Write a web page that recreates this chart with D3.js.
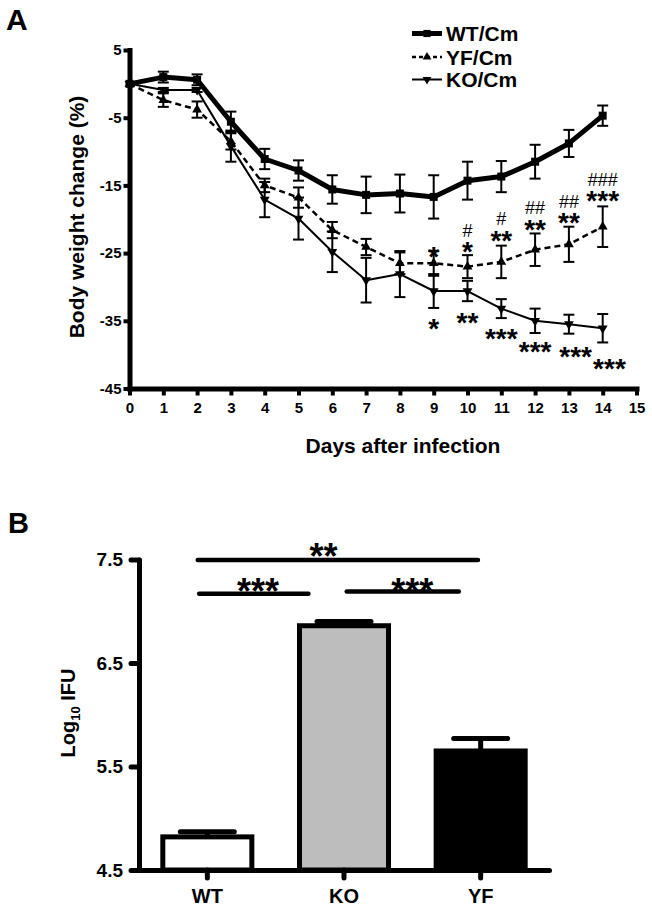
<!DOCTYPE html>
<html><head><meta charset="utf-8">
<script src="https://cdn.jsdelivr.net/npm/d3@7"></script>
<style>
body{margin:0;background:#fff}
svg{display:block}
text{font-family:"Liberation Sans",Arial,Helvetica,sans-serif;fill:#000}
</style>
</head><body>
<svg id="c" width="652" height="909"></svg>
<script>
// ---------- Panel A data ----------
const days = [0,1,2,3,4,5,6,7,8,9,10,11,12,13,14];
const xTicks = [0,1,2,3,4,5,6,7,8,9,10,11,12,13,14,15];
const yTicksA = [5,-5,-15,-25,-35,-45];
const seriesNames = ["WT/Cm","YF/Cm","KO/Cm"];
const wtMean = [0,1.0,0.6,-5.6,-11.1,-12.8,-15.6,-16.4,-16.2,-16.7,-14.3,-13.7,-11.5,-8.8,-4.7];
const wtSem  = [0,0.8,0.8,1.5,1.5,1.5,2.1,2.7,2.8,3.2,2.8,2.3,2.5,2.0,1.5];
const yfMean = [0,-2.4,-3.8,-8.5,-15.0,-16.8,-21.6,-24.1,-26.5,-26.5,-27.0,-26.3,-24.5,-23.7,-21.1];
const yfSem  = [0,1.0,1.2,1.2,1.0,1.5,1.2,1.2,1.6,1.85,1.7,2.4,2.4,2.6,3.0];
const koMean = [0,-0.9,-0.9,-9.2,-17.1,-19.9,-24.8,-29.0,-28.1,-30.6,-30.6,-33.2,-35.0,-35.5,-36.1];
const koSem  = [0,0.3,0.3,2.3,2.6,3.1,3.0,3.3,3.4,2.5,1.5,1.4,1.8,1.4,2.1];
// significance marks (position in data units)
const yfStarDays = [9,10,11,12,13,14];
const yfStarText = ["*","*","**","**","**","***"];
const yfStarY    = [-24.6,-23.8,-22.1,-20.6,-19.5,-16.3];
const yfHashText = ["","#","#","##","##","###"];
const yfHashY    = [0,-21.7,-19.9,-18.4,-17.5,-14.2];
const koStarDays = [9,10,11,12,13.2,14.2];
const koStarText = ["*","**","***","***","***","***"];
const koStarY    = [-35.2,-34.3,-36.6,-38.6,-39.3,-41.1];

// ---------- Panel B data ----------
const groups = ["WT","KO","YF"];
const ifuMean = [4.82,6.86,5.65];
const ifuSem  = [0.05,0.04,0.12];
const ifuFill = ["#ffffff","#bdbdbd","#000000"];
const yTicksB = [4.5,5.5,6.5,7.5];
// brackets: from index, to index, level, label, label position index, label y
const brFrom  = [-0.07,-0.06,1.02];
const brTo    = [1.98,0.74,1.84];
const brLevel = [7.495,7.17,7.19];
const brText  = ["**","***","***"];
const brTextX = [0.85,0.37,1.5];
const brTextY = [7.61,7.27,7.27];

const svg = d3.select("#c");
const starC = fs => 0.575*fs; // asterisk glyph centre above baseline

// ================= Panel A =================
const x = d3.scaleLinear().domain([0,15]).range([129.5,636.5]);
const y = d3.scaleLinear().domain([-45,5]).range([388.5,50]);

svg.append("text").attr("x",6).attr("y",30).attr("font-size",30).attr("font-weight","bold").text("A");

const gy = svg.append("g").attr("transform",`translate(${x(0)},0)`)
  .call(d3.axisLeft(y).tickValues(yTicksA).tickSize(6).tickSizeOuter(0).tickPadding(2).tickFormat(d=>String(d)));
const gx = svg.append("g").attr("transform",`translate(0,${y(-45)})`)
  .call(d3.axisBottom(x).tickValues(xTicks).tickSize(7).tickSizeOuter(0).tickPadding(7).tickFormat(d=>String(d)));
[gy,gx].forEach(g=>{
  g.select(".domain").attr("stroke","#000").attr("stroke-width",5).attr("stroke-linecap","square");
  g.selectAll(".tick line").attr("stroke","#000").attr("stroke-width",4);
  g.selectAll(".tick text").attr("font-size",15).attr("font-weight","bold").attr("fill","#000");
});

// axis titles
svg.append("text").attr("transform",`translate(84,217) rotate(-90)`).attr("text-anchor","middle")
  .attr("font-size",21).attr("font-weight","bold").text("Body weight change (%)");
svg.append("text").attr("x",403).attr("y",452.5).attr("text-anchor","middle")
  .attr("font-size",21).attr("font-weight","bold").text("Days after infection");

const series = [
  {name:seriesNames[0], mean:wtMean, sem:wtSem, width:5, dash:null, sym:d3.symbolSquare, size:64, rot:0},
  {name:seriesNames[1], mean:yfMean, sem:yfSem, width:2.5, dash:"6,4", sym:d3.symbolTriangle, size:42, rot:0},
  {name:seriesNames[2], mean:koMean, sem:koSem, width:2, dash:null, sym:d3.symbolTriangle, size:42, rot:180}
];

const line = d3.line();
series.forEach(s=>{
  const pts = days.map((d,i)=>[x(d),y(s.mean[i])]);
  const eg = svg.append("g").attr("stroke","#000").attr("stroke-width",2);
  days.forEach((d,i)=>{
    if(!s.sem[i]) return;
    const cx=x(d), y1=y(s.mean[i]-s.sem[i]), y2=y(s.mean[i]+s.sem[i]);
    eg.append("line").attr("x1",cx).attr("x2",cx).attr("y1",y1).attr("y2",y2);
    eg.append("line").attr("x1",cx-5.5).attr("x2",cx+5.5).attr("y1",y1).attr("y2",y1);
    eg.append("line").attr("x1",cx-5.5).attr("x2",cx+5.5).attr("y1",y2).attr("y2",y2);
  });
  svg.append("path").attr("d",line(pts)).attr("fill","none").attr("stroke","#000")
    .attr("stroke-width",s.width).attr("stroke-linejoin","round")
    .attr("stroke-dasharray",s.dash);
  const sym = d3.symbol().type(s.sym).size(s.size);
  pts.forEach(p=>{
    svg.append("path").attr("d",sym()).attr("fill","#000")
      .attr("transform",`translate(${p[0]},${p[1]}) rotate(${s.rot})`);
  });
});

// legend
const legY = [33.5,57,79.5];
series.forEach((s,i)=>{
  const g = svg.append("g").attr("transform",`translate(0,${legY[i]})`);
  g.append("line").attr("x1",412).attr("x2",442).attr("y1",0).attr("y2",0)
    .attr("stroke","#000").attr("stroke-width",s.width).attr("stroke-dasharray",s.dash?"4,3":null);
  g.append("path").attr("d",d3.symbol().type(s.sym).size(s.size*0.8)()).attr("fill","#000")
    .attr("transform",`translate(427,0) rotate(${s.rot})`);
  g.append("text").attr("x",446).attr("y",7.5).attr("font-size",21).attr("font-weight","bold").text(s.name);
});

// significance marks: YF (hash stacked above stars in one label)
yfStarDays.forEach((d,i)=>{
  const t = svg.append("text").attr("text-anchor","middle");
  if(yfHashText[i]){
    t.append("tspan").attr("x",x(d)).attr("y",y(yfHashY[i])+6)
      .attr("font-size",18).text(yfHashText[i]);
  }
  t.append("tspan").attr("x",x(d)).attr("y",y(yfStarY[i])+starC(28))
    .attr("font-size",28).attr("font-weight","bold").text(yfStarText[i]);
});
koStarDays.forEach((d,i)=>{
  svg.append("text").attr("x",x(d)).attr("y",y(koStarY[i])+starC(28))
    .attr("text-anchor","middle").attr("font-size",28).attr("font-weight","bold").text(koStarText[i]);
});

// ================= Panel B =================
svg.append("text").attr("x",8).attr("y",533).attr("font-size",29).attr("font-weight","bold").text("B");

const yB = d3.scaleLinear().domain([4.5,7.5]).range([870,559.5]);
const xB = d3.scaleBand().domain(groups).range([139,549]).paddingInner(0.312).paddingOuter(0.156);
const bw = xB.bandwidth();
const xIdx = d3.scaleLinear().domain([0,2]).range([xB(groups[0])+bw/2, xB(groups[2])+bw/2]);

groups.forEach((gname,i)=>{
  svg.append("rect").attr("x",xB(gname)+2.5).attr("width",bw-5)
    .attr("y",yB(ifuMean[i])).attr("height",yB(4.5)-yB(ifuMean[i]))
    .attr("fill",ifuFill[i]).attr("stroke","#000").attr("stroke-width",5);
  const cx = xB(gname)+bw/2, yt = yB(ifuMean[i]+ifuSem[i]);
  svg.append("line").attr("x1",cx).attr("x2",cx).attr("y1",yB(ifuMean[i])).attr("y2",yt)
    .attr("stroke","#000").attr("stroke-width",5);
  svg.append("line").attr("x1",cx-27).attr("x2",cx+27).attr("y1",yt).attr("y2",yt)
    .attr("stroke","#000").attr("stroke-width",5).attr("stroke-linecap","round");
});

const gyB = svg.append("g").attr("transform",`translate(139,0)`)
  .call(d3.axisLeft(yB).tickValues(yTicksB).tickSize(8).tickSizeOuter(0).tickPadding(8).tickFormat(d3.format(".1f")));
const gxB = svg.append("g").attr("transform",`translate(0,870)`)
  .call(d3.axisBottom(xB).tickSize(8).tickSizeOuter(0).tickPadding(11));
[gyB,gxB].forEach(g=>{
  g.select(".domain").attr("stroke","#000").attr("stroke-width",5).attr("stroke-linecap","round");
  g.selectAll(".tick line").attr("stroke","#000").attr("stroke-width",5).attr("stroke-linecap","round");
  g.selectAll(".tick text").attr("font-size",19).attr("font-weight","bold").attr("fill","#000");
});
gxB.selectAll(".tick text").attr("font-size",20);

const tB = svg.append("text").attr("transform",`translate(75,713) rotate(-90)`).attr("text-anchor","middle")
  .attr("font-size",20).attr("font-weight","bold");
tB.append("tspan").text("Log");
tB.append("tspan").attr("font-size",13).attr("dy",5).text("10");
tB.append("tspan").attr("dy",-5).text(" IFU");

brFrom.forEach((f,i)=>{
  svg.append("line").attr("x1",xIdx(f)).attr("x2",xIdx(brTo[i]))
    .attr("y1",yB(brLevel[i])).attr("y2",yB(brLevel[i]))
    .attr("stroke","#000").attr("stroke-width",4.5).attr("stroke-linecap","round");
  svg.append("text").attr("x",xIdx(brTextX[i])).attr("y",yB(brTextY[i])+starC(36))
    .attr("text-anchor","middle").attr("font-size",36).attr("font-weight","bold").text(brText[i]);
});
</script>
</body></html>
